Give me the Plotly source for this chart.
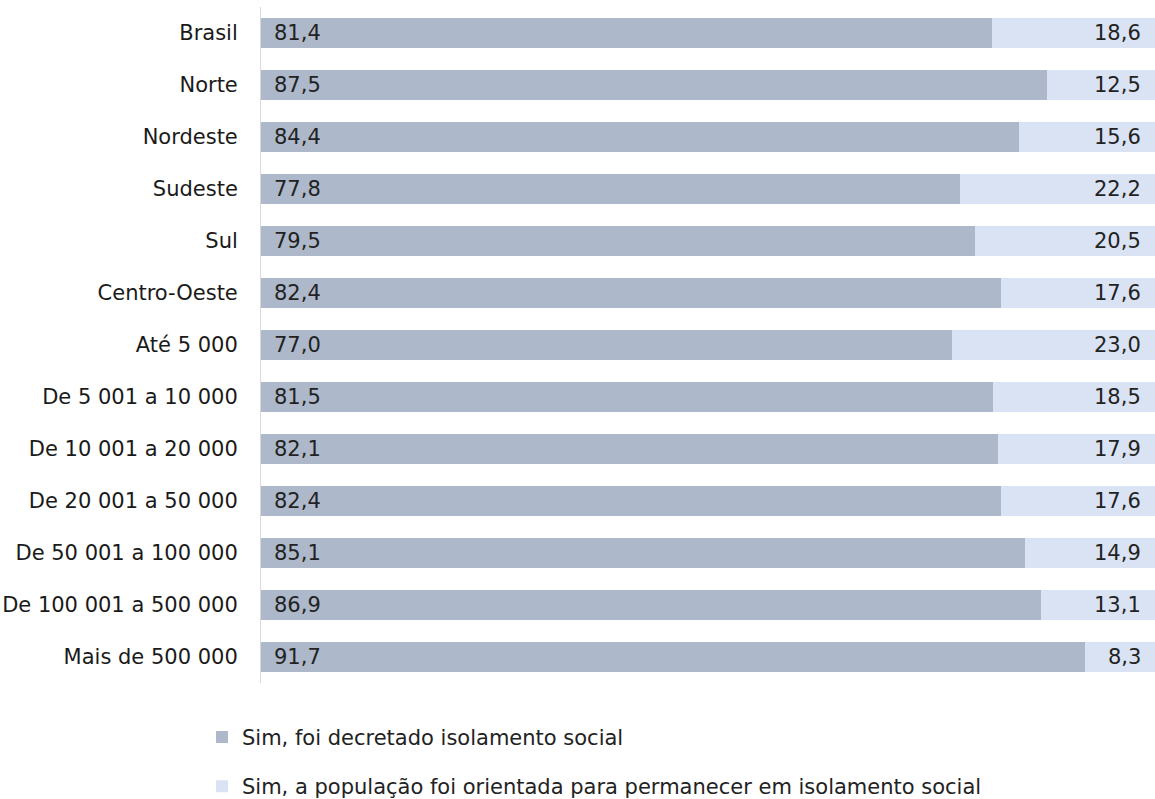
import plotly.graph_objects as go

categorias = [
    "Brasil", "Norte", "Nordeste", "Sudeste", "Sul", "Centro-Oeste",
    "Até 5 000", "De 5 001 a 10 000", "De 10 001 a 20 000",
    "De 20 001 a 50 000", "De 50 001 a 100 000", "De 100 001 a 500 000",
    "Mais de 500 000",
]
decretado = [81.4, 87.5, 84.4, 77.8, 79.5, 82.4, 77.0, 81.5, 82.1, 82.4, 85.1, 86.9, 91.7]
orientada = [18.6, 12.5, 15.6, 22.2, 20.5, 17.6, 23.0, 18.5, 17.9, 17.6, 14.9, 13.1, 8.3]

nome_decretado = "Sim, foi decretado isolamento social"
nome_orientada = "Sim, a população foi orientada para permanecer em isolamento social"

cor_escura = "#ADB9CA"
cor_clara = "#DAE3F3"
fonte = "DejaVu Sans"


def fmt(v):
    return f"{v:.1f}".replace(".", ",")


fig = go.Figure()
fig.add_trace(go.Bar(
    y=categorias, x=decretado, orientation="h", name=nome_decretado,
    marker=dict(color=cor_escura, line=dict(width=0)), legendgroup="a",
))
fig.add_trace(go.Bar(
    y=categorias, x=orientada, orientation="h", name=nome_orientada,
    marker=dict(color=cor_clara, line=dict(width=0)), legendgroup="b",
))

# rótulos de valor: à esquerda (decretado) e à direita (orientada)
for cat, a, b in zip(categorias, decretado, orientada):
    fig.add_annotation(x=0, xref="paper", y=cat, yref="y", text=fmt(a),
                       showarrow=False, xanchor="left", xshift=11,
                       font=dict(family=fonte, size=21, color="#222222"))
    fig.add_annotation(x=1, xref="paper", y=cat, yref="y", text=fmt(b),
                       showarrow=False, xanchor="right", xshift=-12,
                       font=dict(family=fonte, size=21, color="#222222"))

fig.update_layout(
    width=1155, height=799,
    margin=dict(l=261, r=0, t=7, b=116, autoexpand=False),
    barmode="stack", bargap=0.42,
    plot_bgcolor="white", paper_bgcolor="white",
    font=dict(family=fonte, size=21, color="#222222"),
    legend=dict(
        orientation="v", x=-0.066, xanchor="left", y=-0.05, yanchor="top",
        traceorder="grouped", tracegroupgap=19,
        font=dict(family=fonte, size=21, color="#222222"),
        itemwidth=30,
    ),
    xaxis=dict(range=[0, 99.55], showgrid=False, showticklabels=False,
               zeroline=False, showline=False, automargin=False),
    yaxis=dict(autorange="reversed", showgrid=False, showline=True,
               linecolor="#D9D9D9", linewidth=1, ticks="",
               ticklabelstandoff=18, automargin=False,
               tickfont=dict(family=fonte, size=21, color="#1a1a1a")),
)

# a página padrão tem margem de 8px no body; zera para alinhar ao quadro
fig.write_html("out.html", config={"displayModeBar": False},
               post_script="document.body.style.margin='0';")
